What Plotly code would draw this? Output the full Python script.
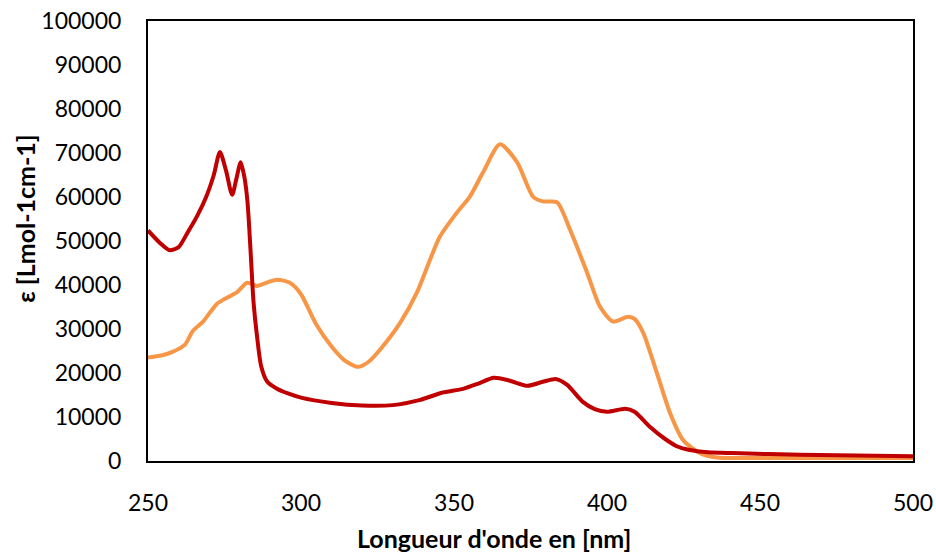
import plotly.graph_objects as go

# Wavelength (nm) and molar absorptivity values
red_x = [250, 254, 257, 260, 263, 266, 269, 271.5, 273.5, 275.5, 277.5, 279, 280.3, 281.5, 282.5, 283.5, 284.5, 285.6, 287, 289,
         292, 296, 300, 310, 320, 330, 339, 346, 353, 358, 363, 368, 374, 379, 383.5, 387, 392, 396, 400, 406,
         409, 414, 419, 423, 427, 433, 441, 463, 500]
red_y = [52400, 49500, 47900, 48600, 52000, 55600, 60000, 65000, 70200, 66000, 60500, 64500, 67900, 64500, 59000, 48000, 36000, 28500, 21500, 18000,
         16500, 15300, 14400, 13200, 12600, 12700, 13900, 15500, 16400, 17600, 18900, 18300, 17100, 18000, 18600, 17300, 13500, 11800, 11200, 11900,
         11200, 7800, 5000, 3300, 2500, 2000, 1800, 1400, 1100]

orange_x = [250, 255, 258, 262, 264.7, 268, 272.5, 275, 279, 282.4, 285.6, 289, 292.2, 296.4, 300, 305, 310, 314, 318.6, 322,
            325.8, 332.4, 337.9, 342.2, 345.4, 351, 355.2, 359.5, 365, 370.6, 375.8, 379.1, 383.7, 387.9, 393.5, 397.7, 401.9, 406.9, 409, 411.8,
            416.3, 420.6, 424.8, 430.4, 436, 447, 500]
orange_y = [23500, 24100, 24800, 26400, 29600, 31700, 35700, 36800, 38300, 40500, 39800, 40600, 41200, 40500, 37900, 31000, 26000, 23000, 21400, 22500,
            25300, 31400, 38300, 45800, 51000, 56500, 60100, 65600, 72000, 67900, 60100, 59000, 58800, 52600, 42800, 35100, 31700, 32800, 32300, 29200,
            20000, 10900, 4800, 1800, 800, 700, 700]

x_ticks = [250, 300, 350, 400, 450, 500]
y_ticks = [0, 10000, 20000, 30000, 40000, 50000, 60000, 70000, 80000, 90000, 100000]

FONT = "Lato"

fig = go.Figure()
fig.add_trace(go.Scatter(x=orange_x, y=orange_y, mode="lines",
                         line=dict(color="#F79646", width=4, shape="spline", smoothing=0.7),
                         showlegend=False))
fig.add_trace(go.Scatter(x=red_x, y=red_y, mode="lines",
                         line=dict(color="#C00000", width=4, shape="spline", smoothing=0.7),
                         showlegend=False))

fig.update_layout(
    width=936, height=554,
    margin=dict(l=148, r=23, t=21, b=93),
    paper_bgcolor="white", plot_bgcolor="white",
    font=dict(family=FONT, size=23, color="black"),
    xaxis=dict(range=[250, 500], tickvals=x_ticks, showgrid=False, zeroline=False,
               showline=True, mirror=True, linecolor="black", linewidth=2,
               ticks="outside", ticklen=20, tickcolor="rgba(0,0,0,0)", automargin=False),
    yaxis=dict(range=[0, 100000], tickvals=y_ticks, tickformat="d", showgrid=False, zeroline=False,
               showline=True, mirror=True, linecolor="black", linewidth=2,
               ticks="outside", ticklen=20, tickcolor="rgba(0,0,0,0)", automargin=False),
    annotations=[
        dict(text="<b>Longueur d'onde en [nm]</b>", xref="paper", yref="paper",
             x=0.452, y=-0.1754, showarrow=False, xanchor="center", yanchor="middle",
             font=dict(family=FONT, size=25)),
        dict(text="<b>ε [Lmol-1cm-1]</b>", xref="paper", yref="paper",
             x=-0.162, y=0.551, showarrow=False, xanchor="center", yanchor="middle",
             textangle=-90, font=dict(family=FONT, size=25)),
    ],
)

fig.write_html("out.html")
